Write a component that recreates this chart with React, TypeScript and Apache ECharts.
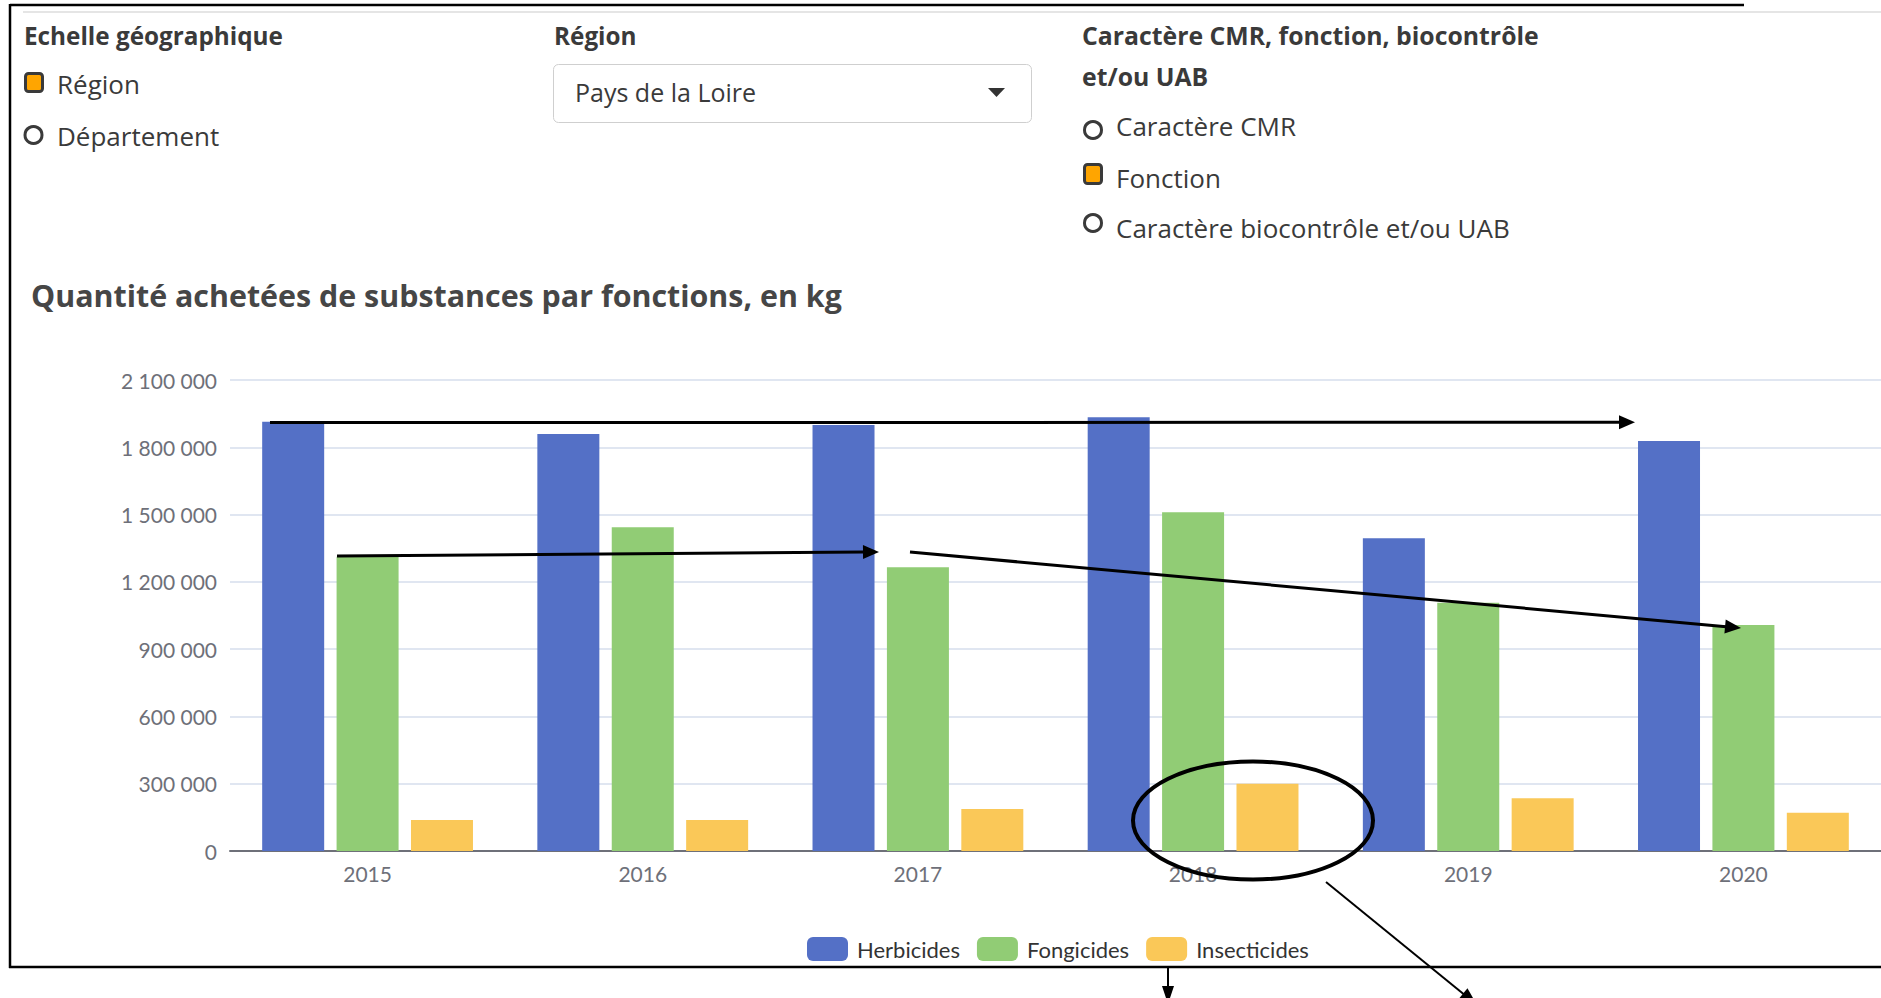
import React, { useEffect, useRef } from "react";
import * as echarts from "echarts";

const years = ["2015", "2016", "2017", "2018", "2019", "2020"];
const herbicides = [1914000, 1859000, 1899000, 1934000, 1394000, 1828000];
const fongicides = [1312000, 1443000, 1265000, 1510000, 1107000, 1008000];
const insecticides = [138000, 138000, 187000, 300000, 235000, 171000];
const seriesNames = ["Herbicides", "Fongicides", "Insecticides"];
const colors = ["#5470c6", "#91cc75", "#fac858"];

const titleText = "Quantité achetées de substances par fonctions, en kg";

const CF = "'Open Sans', 'Noto Sans', sans-serif";
const CHF = "Lato, 'Open Sans', sans-serif";
const DARK = "#3a3a3a";

function fmt(v: number) {
  return String(v).replace(/\B(?=(\d{3})+(?!\d))/g, " ");
}

function txt(text: string, x: number, y: number, size: number, bold = false) {
  return {
    type: "text",
    x,
    y,
    silent: true,
    style: {
      text,
      fontSize: size,
      fontWeight: bold ? "bold" : "normal",
      fontFamily: CF,
      fill: DARK,
      align: "left",
      verticalAlign: "middle",
    },
  };
}

function checkedBox(x: number, y: number, w: number, h: number) {
  return {
    type: "rect",
    silent: true,
    shape: { x: x + 1.5, y: y + 1.5, width: w - 3, height: h - 3, r: 3 },
    style: { fill: "#ffa500", stroke: DARK, lineWidth: 3 },
  };
}

function radio(cx: number, cy: number) {
  return {
    type: "circle",
    silent: true,
    shape: { cx, cy, r: 8.5 },
    style: { fill: "#fff", stroke: DARK, lineWidth: 3 },
  };
}

function line(x1: number, y1: number, x2: number, y2: number, w: number, c = "#000") {
  return {
    type: "line",
    silent: true,
    z: 100,
    shape: { x1, y1, x2, y2 },
    style: { stroke: c, lineWidth: w },
  };
}

function arrow(x1: number, y1: number, x2: number, y2: number, w: number, headLen: number, headHalf: number) {
  const dx = x2 - x1;
  const dy = y2 - y1;
  const L = Math.sqrt(dx * dx + dy * dy);
  const ux = dx / L;
  const uy = dy / L;
  const bx = x2 - ux * headLen;
  const by = y2 - uy * headLen;
  const px = -uy * headHalf;
  const py = ux * headHalf;
  return [
    line(x1, y1, bx + ux * 1, by + uy * 1, w),
    {
      type: "polygon",
      silent: true,
      z: 100,
      shape: { points: [[x2, y2], [bx + px, by + py], [bx - px, by - py]] },
      style: { fill: "#000" },
    },
  ];
}

export default function App() {
  const ref = useRef<HTMLDivElement>(null);
  useEffect(() => {
    if (!ref.current) return;
    const chart = echarts.init(ref.current, null, { renderer: "svg" });
    const elements: any[] = [
      // page frame
      line(23, 12, 1881, 12, 1.5, "#dddddd"),
      line(10, 5, 1744, 5, 2.5),
      line(10, 4, 10, 968, 2.5),
      line(9, 967, 1881, 967, 2.5),
      // controls
      txt("Echelle géographique", 24, 35, 24.3, true),
      checkedBox(24, 72, 20, 21),
      txt("Région", 57, 84, 26),
      radio(33.5, 135),
      txt("Département", 57, 136, 26),
      txt("Région", 554, 35, 24.3, true),
      {
        type: "rect",
        silent: true,
        shape: { x: 553.5, y: 64.5, width: 478, height: 58, r: 5 },
        style: { fill: "#fff", stroke: "#cfcfcf", lineWidth: 1 },
      },
      txt("Pays de la Loire", 575, 92, 25),
      {
        type: "polygon",
        silent: true,
        shape: { points: [[988, 88], [1005, 88], [996.5, 97]] },
        style: { fill: "#333" },
      },
      txt("Caractère CMR, fonction, biocontrôle", 1082, 35, 24.8, true),
      txt("et/ou UAB", 1082, 76, 24.8, true),
      radio(1093, 130),
      txt("Caractère CMR", 1116, 126, 26),
      checkedBox(1083, 163, 20, 22),
      txt("Fonction", 1116, 178, 26),
      radio(1093, 223),
      txt("Caractère biocontrôle et/ou UAB", 1116, 228, 26),
      // annotations
      ...arrow(270, 422.5, 1635, 422.3, 3, 16, 7),
      ...arrow(337, 556, 879, 552, 3, 16, 7),
      ...arrow(910, 552, 1741, 628, 3, 16, 7),
      {
        type: "ellipse",
        silent: true,
        z: 100,
        shape: { cx: 1253, cy: 820.5, rx: 120, ry: 59 },
        style: { fill: "none", stroke: "#000", lineWidth: 4 },
      },
      ...arrow(1326, 882, 1477, 1005, 2, 18, 7),
      ...arrow(1168, 967, 1168, 1004, 2, 18, 6),
    ];

    const barSeries = [herbicides, fongicides, insecticides].map((d, i) => ({
      name: seriesNames[i],
      type: "bar",
      data: d,
      barWidth: 62,
      barGap: "20%",
      itemStyle: { color: colors[i] },
    }));

    chart.setOption({
      animation: false,
      color: colors,
      title: {
        text: titleText,
        left: 31,
        top: 280,
        padding: 0,
        textStyle: {
          fontFamily: CF,
          fontSize: 30.4,
          fontWeight: "bold",
          color: "#464646",
        },
      },
      legend: {
        data: seriesNames,
        left: 807,
        top: 937,
        padding: 0,
        itemWidth: 41,
        itemHeight: 24,
        itemGap: 17,
        icon: "roundRect",
        textStyle: { fontFamily: CHF, fontSize: 22, color: "#333", padding: [0, 0, 0, 4] },
      },
      grid: { left: 230, right: -7, top: 380, bottom: 147, containLabel: false },
      xAxis: {
        type: "category",
        data: years,
        axisLine: { lineStyle: { color: "#6E7079", width: 2 } },
        axisTick: { length: 8, lineStyle: { color: "#6E7079", width: 2 } },
        axisLabel: { fontFamily: CHF, fontSize: 21, color: "#6E7079", margin: 12 },
      },
      yAxis: {
        type: "value",
        min: 0,
        max: 2100000,
        interval: 300000,
        axisLabel: {
          fontFamily: CHF,
          fontSize: 21,
          color: "#6E7079",
          margin: 13,
          formatter: (v: number) => fmt(v),
        },
        splitLine: { lineStyle: { color: "#E0E6F1", width: 2 } },
      },
      series: barSeries,
      graphic: { elements },
    });
    return () => chart.dispose();
  }, []);
  return (
    <div
      ref={ref}
      style={{ position: "fixed", left: 0, top: 0, width: "1881px", height: "998px", background: "#fff" }}
    />
  );
}
